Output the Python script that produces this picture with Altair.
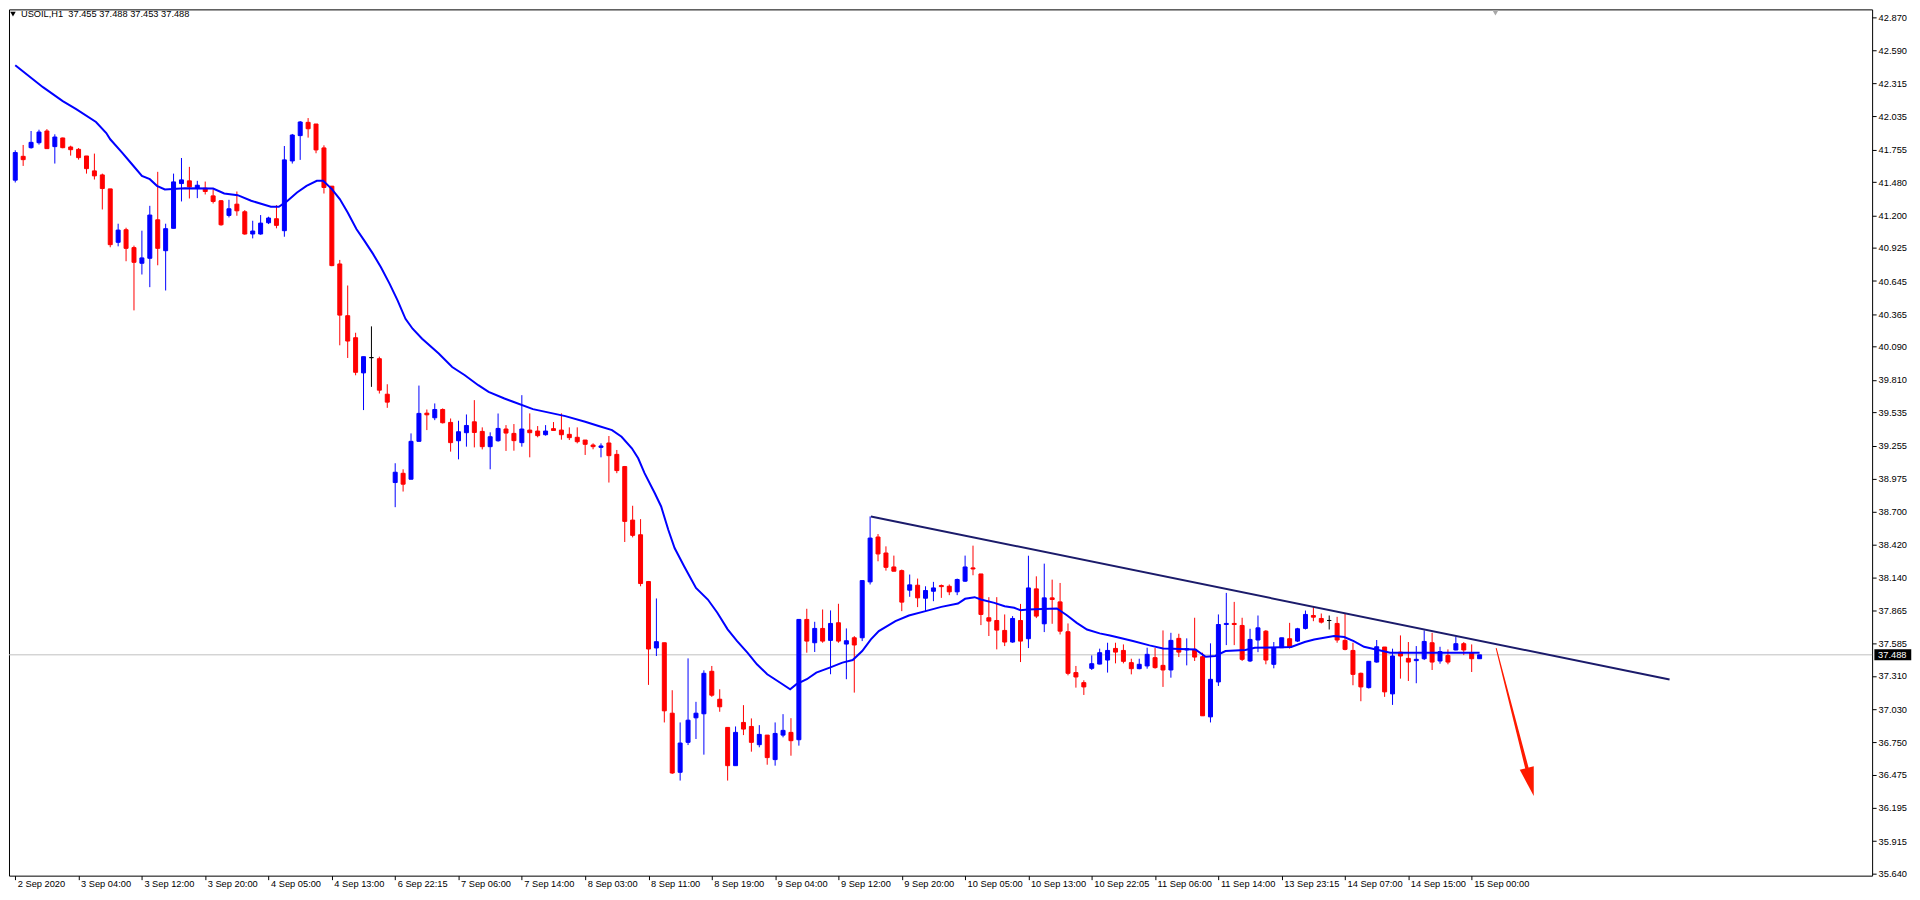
import json
import numpy as np
import pandas as pd
import altair as alt

# ---------------- data (USOIL, H1) ----------------
candle_open = [
    41.497, 41.698, 41.771, 41.813, 41.912, 41.780, 41.853, 41.777, 41.757, 41.701,
    41.575, 41.541, 41.423, 40.972, 41.078, 40.927, 40.795, 40.837, 41.162, 40.901,
    41.090, 41.468, 41.491, 41.426, 41.429, 41.364, 41.323, 41.199, 41.294, 41.230,
    41.042, 41.042, 41.137, 41.171, 41.070, 41.659, 41.873, 41.985, 41.971, 41.769,
    41.446, 40.789, 40.352, 40.166, 39.869, 39.998, 39.989, 39.689, 38.943, 39.021,
    38.971, 39.291, 39.529, 39.490, 39.560, 39.451, 39.296, 39.364, 39.456, 39.375,
    39.246, 39.296, 39.395, 39.358, 39.280, 39.386, 39.378, 39.347, 39.398, 39.386,
    39.350, 39.325, 39.302, 39.260, 39.240, 39.277, 39.181, 39.078, 38.626, 38.502,
    38.107, 37.546, 37.590, 36.995, 36.496, 36.749, 36.956, 36.990, 37.349, 37.113,
    36.875, 36.552, 36.917, 36.883, 36.729, 36.810, 36.603, 36.810, 36.833, 36.771,
    37.787, 37.590, 37.711, 37.610, 37.759, 37.579, 37.632, 37.632, 38.104, 38.483,
    38.348, 38.230, 38.199, 38.034, 38.076, 37.966, 38.025, 38.073, 38.067, 38.020,
    38.110, 38.222, 38.171, 37.801, 37.778, 37.694, 37.596, 37.778, 37.624, 38.045,
    37.750, 37.969, 37.935, 37.683, 37.338, 37.253, 37.374, 37.410, 37.444, 37.542,
    37.525, 37.422, 37.371, 37.394, 37.464, 37.399, 37.360, 37.627, 37.529, 37.534,
    37.472, 36.964, 37.259, 37.744, 37.753, 37.736, 37.436, 37.613, 37.688, 37.408,
    37.548, 37.624, 37.604, 37.711, 37.820, 37.795, 37.778, 37.753, 37.610, 37.525,
    37.332, 37.211, 37.427, 37.554, 37.158, 37.511, 37.458, 37.439, 37.455, 37.590,
    37.436, 37.483, 37.529, 37.582, 37.506, 37.455,
]
candle_high = [
    41.749, 41.794, 41.912, 41.923, 41.928, 41.884, 41.856, 41.788, 41.768, 41.701,
    41.721, 41.552, 41.423, 41.129, 41.095, 40.944, 41.070, 41.280, 41.567, 41.129,
    41.552, 41.684, 41.609, 41.491, 41.485, 41.420, 41.328, 41.331, 41.401, 41.244,
    41.154, 41.202, 41.188, 41.286, 41.785, 41.887, 41.996, 42.021, 41.971, 41.791,
    41.446, 40.823, 40.607, 40.208, 40.006, 40.262, 40.006, 39.773, 39.106, 39.055,
    39.358, 39.762, 39.560, 39.611, 39.569, 39.484, 39.465, 39.518, 39.639, 39.409,
    39.367, 39.526, 39.428, 39.437, 39.681, 39.527, 39.420, 39.428, 39.454, 39.527,
    39.409, 39.409, 39.302, 39.274, 39.274, 39.336, 39.218, 39.083, 38.747, 38.634,
    38.112, 37.964, 37.590, 37.189, 36.917, 37.458, 37.091, 37.357, 37.394, 37.197,
    36.875, 36.883, 37.063, 36.951, 36.894, 36.810, 36.917, 36.987, 36.953, 37.787,
    37.877, 37.767, 37.871, 37.863, 37.919, 37.711, 37.646, 38.115, 38.657, 38.508,
    38.404, 38.326, 38.208, 38.166, 38.132, 38.067, 38.104, 38.082, 38.082, 38.132,
    38.326, 38.410, 38.171, 37.975, 37.975, 37.829, 37.815, 37.918, 38.325, 38.151,
    38.258, 38.123, 38.095, 37.753, 37.394, 37.273, 37.483, 37.540, 37.590, 37.590,
    37.576, 37.455, 37.455, 37.548, 37.545, 37.694, 37.674, 37.666, 37.627, 37.801,
    37.506, 37.585, 37.829, 38.011, 37.935, 37.801, 37.708, 37.820, 37.697, 37.596,
    37.632, 37.758, 37.716, 37.862, 37.890, 37.837, 37.820, 37.809, 37.837, 37.590,
    37.338, 37.433, 37.613, 37.554, 37.540, 37.652, 37.596, 37.562, 37.694, 37.674,
    37.556, 37.534, 37.641, 37.596, 37.576, 37.488,
]
candle_low = [
    41.477, 41.617, 41.763, 41.797, 41.763, 41.637, 41.766, 41.704, 41.670, 41.552,
    41.502, 41.249, 40.930, 40.938, 40.812, 40.397, 40.700, 40.593, 40.778, 40.565,
    41.090, 41.317, 41.342, 41.345, 41.376, 41.300, 41.112, 41.182, 41.196, 41.036,
    41.005, 41.036, 41.126, 41.090, 41.019, 41.637, 41.668, 41.856, 41.724, 41.384,
    40.770, 40.102, 39.995, 39.849, 39.555, 39.751, 39.695, 39.574, 38.735, 38.867,
    38.971, 39.291, 39.386, 39.470, 39.442, 39.204, 39.139, 39.246, 39.240, 39.223,
    39.055, 39.288, 39.210, 39.212, 39.246, 39.156, 39.325, 39.339, 39.383, 39.305,
    39.302, 39.274, 39.176, 39.224, 39.156, 38.943, 39.022, 38.441, 38.480, 38.067,
    37.234, 37.478, 36.917, 36.482, 36.426, 36.726, 36.777, 36.645, 37.133, 37.007,
    36.426, 36.552, 36.810, 36.670, 36.707, 36.560, 36.552, 36.791, 36.636, 36.721,
    37.506, 37.512, 37.590, 37.324, 37.590, 37.282, 37.169, 37.604, 38.082, 38.278,
    38.199, 38.194, 37.857, 37.978, 37.891, 37.857, 37.941, 37.969, 37.992, 37.992,
    38.104, 38.160, 37.739, 37.647, 37.534, 37.562, 37.590, 37.427, 37.545, 37.798,
    37.680, 37.750, 37.660, 37.315, 37.211, 37.149, 37.360, 37.408, 37.338, 37.416,
    37.416, 37.323, 37.366, 37.371, 37.371, 37.217, 37.295, 37.469, 37.399, 37.436,
    36.973, 36.917, 37.225, 37.570, 37.570, 37.436, 37.427, 37.511, 37.408, 37.374,
    37.548, 37.540, 37.596, 37.702, 37.772, 37.753, 37.702, 37.590, 37.526, 37.231,
    37.096, 37.203, 37.422, 37.133, 37.065, 37.287, 37.267, 37.248, 37.444, 37.360,
    37.413, 37.408, 37.526, 37.486, 37.343, 37.453,
]
candle_close = [
    41.730, 41.670, 41.816, 41.903, 41.763, 41.861, 41.771, 41.754, 41.687, 41.594,
    41.533, 41.426, 40.952, 41.075, 40.921, 40.803, 40.840, 41.202, 40.921, 41.087,
    41.482, 41.499, 41.440, 41.454, 41.401, 41.317, 41.120, 41.255, 41.238, 41.042,
    41.067, 41.134, 41.177, 41.115, 41.668, 41.878, 41.988, 41.931, 41.752, 41.435,
    40.775, 40.357, 40.138, 39.874, 40.006, 39.998, 39.723, 39.622, 39.030, 38.929,
    39.291, 39.527, 39.515, 39.560, 39.448, 39.280, 39.372, 39.425, 39.366, 39.246,
    39.330, 39.400, 39.361, 39.297, 39.395, 39.364, 39.339, 39.378, 39.383, 39.347,
    39.322, 39.288, 39.266, 39.246, 39.252, 39.170, 39.044, 38.615, 38.497, 38.090,
    37.537, 37.599, 37.015, 36.490, 36.743, 36.936, 36.995, 37.332, 37.147, 37.049,
    36.552, 36.833, 36.861, 36.749, 36.816, 36.620, 36.824, 36.850, 36.763, 37.787,
    37.604, 37.711, 37.604, 37.753, 37.604, 37.607, 37.571, 38.115, 38.474, 38.340,
    38.227, 38.194, 37.933, 38.079, 37.969, 38.031, 38.053, 38.064, 38.020, 38.124,
    38.230, 38.213, 37.829, 37.773, 37.697, 37.596, 37.795, 37.604, 38.053, 37.815,
    37.969, 37.955, 37.688, 37.332, 37.301, 37.217, 37.413, 37.506, 37.525, 37.511,
    37.433, 37.371, 37.408, 37.492, 37.380, 37.360, 37.610, 37.511, 37.540, 37.469,
    36.973, 37.281, 37.744, 37.753, 37.744, 37.450, 37.618, 37.716, 37.444, 37.548,
    37.632, 37.554, 37.708, 37.829, 37.806, 37.764, 37.778, 37.613, 37.534, 37.323,
    37.217, 37.433, 37.556, 37.175, 37.478, 37.478, 37.427, 37.450, 37.601, 37.427,
    37.515, 37.427, 37.582, 37.529, 37.455, 37.488,
]

time_labels = [
    "2 Sep 2020", "3 Sep 04:00", "3 Sep 12:00", "3 Sep 20:00", "4 Sep 05:00",
    "4 Sep 13:00", "6 Sep 22:15", "7 Sep 06:00", "7 Sep 14:00", "8 Sep 03:00",
    "8 Sep 11:00", "8 Sep 19:00", "9 Sep 04:00", "9 Sep 12:00", "9 Sep 20:00",
    "10 Sep 05:00", "10 Sep 13:00", "10 Sep 22:05", "11 Sep 06:00", "11 Sep 14:00",
    "13 Sep 23:15", "14 Sep 07:00", "14 Sep 15:00", "15 Sep 00:00",
]
bars_per_label = 8

price_ticks = [
    42.870, 42.590, 42.315, 42.035, 41.755, 41.480, 41.200, 40.925, 40.645,
    40.365, 40.090, 39.810, 39.535, 39.255, 38.975, 38.700, 38.420, 38.140,
    37.865, 37.585, 37.310, 37.030, 36.750, 36.475, 36.195, 35.915, 35.640,
]

ma_bar = [
    0, 3.5, 6.0, 7.7, 10.2, 11.5, 12.0, 13.5, 14.75, 16.0, 17.0, 17.9, 18.9, 21.4,
    25.0, 26.4, 28.1, 29.8, 32.3, 33.3, 34.3, 35.6, 36.8, 38.1, 38.9, 40.0, 41.0,
    42.0, 43.1, 44.1, 45.2, 46.2, 47.3, 48.3, 49.3, 50.2, 51.4, 53.5, 55.2, 56.8,
    58.5, 59.8, 61.8, 62.9, 65.4, 69.5, 72.0, 73.7, 75.4, 76.6, 77.9, 78.7, 79.5,
    80.8, 81.6, 82.5, 83.3, 84.5, 86.0, 87.5, 88.7, 90.0, 91.2, 92.5, 93.7, 95.0,
    96.6, 97.9, 98.7, 100.0, 101.2, 102.9, 104.5, 105.8, 107.0, 108.1, 109.1,
    111.2, 112.9, 115.0, 117.0, 119.1, 120.0, 121.2, 122.0, 123.7, 125.0, 126.2,
    127.0, 127.9, 131.6, 132.9, 134.1, 135.4, 137.0, 138.3, 139.5, 141.2, 143.3,
    145.0, 146.2, 149.1, 150.4, 151.6, 152.9, 155.4, 156.6, 161.2, 162.9, 164.1,
    166.6, 167.9, 169.1, 170.4, 173.7, 185.0,
]
ma_value = [
    42.468, 42.282, 42.164, 42.097, 41.988, 41.895, 41.842, 41.730, 41.631, 41.533,
    41.505, 41.449, 41.418, 41.429, 41.426, 41.384, 41.370, 41.323, 41.272, 41.272,
    41.317, 41.393, 41.449, 41.491, 41.491, 41.421, 41.337, 41.224, 41.084, 40.986,
    40.874, 40.761, 40.621, 40.481, 40.326, 40.242, 40.158, 40.032, 39.919, 39.849,
    39.765, 39.709, 39.653, 39.625, 39.563, 39.504, 39.456, 39.420, 39.386, 39.330,
    39.232, 39.148, 39.022, 38.853, 38.741, 38.544, 38.390, 38.236, 38.053, 37.955,
    37.843, 37.703, 37.604, 37.506, 37.408, 37.324, 37.254, 37.197, 37.240, 37.282,
    37.338, 37.380, 37.422, 37.444, 37.520, 37.618, 37.688, 37.773, 37.820, 37.857,
    37.893, 37.921, 37.961, 37.975, 37.955, 37.927, 37.899, 37.885, 37.865, 37.871,
    37.879, 37.820, 37.758, 37.702, 37.669, 37.652, 37.632, 37.604, 37.568, 37.542,
    37.540, 37.534, 37.472, 37.478, 37.520, 37.528, 37.548, 37.554, 37.596, 37.618,
    37.646, 37.638, 37.604, 37.556, 37.506, 37.506,
]

trend_bar = [108.1, 209.0]
trend_value = [38.657, 37.279]

arrow_bar = [187.1, 191.0]
arrow_value = [37.542, 36.525]
arrow_width = [1.0, 3.5]
arrow_head_bar = [191.4]
arrow_head_value = [36.414]

last_price = 37.488
shift_marker_bar = 187.0
title_text = "USOIL,H1\u00a0\u00a037.455 37.488 37.453 37.488"

# ---------------- tables ----------------
n = len(candle_open)
candles = pd.DataFrame({
    "bar": np.arange(n),
    "open": candle_open,
    "high": candle_high,
    "low": candle_low,
    "close": candle_close,
})
candles["dir"] = np.where(candles["close"] > candles["open"], "up",
                          np.where(candles["close"] < candles["open"], "down", "flat"))
ma_df = pd.DataFrame({"bar": ma_bar, "price": ma_value})
trend_df = pd.DataFrame({"bar": trend_bar, "price": trend_value})
arrow_df = pd.DataFrame({"bar": arrow_bar, "price": arrow_value, "w": arrow_width})
head_df = pd.DataFrame({"bar": arrow_head_bar, "price": arrow_head_value})
last_df = pd.DataFrame({"price": [last_price]})
shift_df = pd.DataFrame({"bar": [shift_marker_bar]})
title_df = pd.DataFrame({"t": [title_text]})

# ---------------- styling ----------------
W, H = 1869, 869
FONT = "Liberation Sans"
FS = 9.3

xs = alt.Scale(domain=[-0.16, 233.96], nice=False, zero=False)
ys = alt.Scale(domain=[35.623, 42.939], nice=False, zero=False)

x_axis = alt.Axis(
    values=[bars_per_label * i for i in range(len(time_labels))],
    labelExpr=f"{json.dumps(time_labels)}[round(datum.value/{bars_per_label})]",
    orient="bottom", grid=False, domain=False, tickSize=4, tickColor="black",
    labelAlign="left", labelBaseline="middle", labelPadding=4, labelOffset=2,
    labelFont=FONT, labelFontSize=FS, labelColor="black",
    labelOverlap=False, labelFlush=False, labelBound=False, title=None,
)
y_axis = alt.Axis(
    values=price_ticks, format=".3f", orient="right", grid=False, domain=False,
    tickSize=4, tickColor="black", labelPadding=2, labelAlign="left",
    labelBaseline="middle", labelFont=FONT, labelFontSize=FS, labelColor="black",
    labelOverlap=False, labelFlush=False, labelBound=False, title=None,
)

col_scale = alt.Scale(domain=["up", "down", "flat"], range=["#0000ff", "#ff0000", "#000000"])


def X(field):
    return alt.X(field, type="quantitative", scale=xs, axis=x_axis)


def Y(field):
    return alt.Y(field, type="quantitative", scale=ys, axis=y_axis)


bid_line = alt.Chart(last_df).mark_rule(color="#c0c0c0", strokeWidth=1).encode(
    y=Y("price"), x=alt.value(0), x2=alt.value(W)
)

wicks = alt.Chart(candles).mark_rule(strokeWidth=1).encode(
    x=X("bar"), y=Y("low"), y2="high",
    color=alt.Color("dir:N", scale=col_scale, legend=None),
)

bodies = alt.Chart(candles).mark_bar(size=4, strokeWidth=1).encode(
    x=X("bar"), y=Y("open"), y2="close",
    color=alt.Color("dir:N", scale=col_scale, legend=None),
    stroke=alt.Stroke("dir:N", scale=col_scale, legend=None),
)

ma_line = alt.Chart(ma_df).mark_line(color="#0000ff", strokeWidth=2).encode(
    x=X("bar"), y=Y("price")
)

trend_line = alt.Chart(trend_df).mark_line(color="#1b1b6b", strokeWidth=2).encode(
    x=X("bar"), y=Y("price")
)

arrow_shaft = alt.Chart(arrow_df).mark_trail(color="#ff1a00").encode(
    x=X("bar"), y=Y("price"), size=alt.Size("w:Q", scale=None, legend=None)
)

arrow_head = alt.Chart(head_df).mark_point(
    shape="M-0.5,-1L0.5,-1L0,1Z", filled=True, fill="#ff1a00", opacity=1,
    strokeWidth=0, size=840, angle=346,
).encode(x=X("bar"), y=Y("price"))

price_box = alt.Chart(last_df).mark_point(
    shape="M-1,-0.3L1,-0.3L1,0.3L-1,0.3Z", filled=True, fill="black",
    opacity=1, strokeWidth=0, size=1369,
).encode(y=Y("price"), x=alt.value(W + 20.75))

price_text = alt.Chart(last_df).mark_text(
    color="white", font=FONT, fontSize=FS, align="left", baseline="middle"
).encode(y=Y("price"), x=alt.value(W + 6), text=alt.Text("price:Q", format=".3f"))

title_mark = alt.Chart(title_df).mark_text(
    color="black", font=FONT, fontSize=FS, align="left", baseline="middle"
).encode(x=alt.value(12), y=alt.value(4.7), text="t:N")

title_tri = alt.Chart(title_df).mark_point(
    shape="triangle-down", filled=True, fill="black", opacity=1, strokeWidth=0, size=30
).encode(x=alt.value(4), y=alt.value(4.8))

shift_marker = alt.Chart(shift_df).mark_point(
    shape="triangle-down", filled=True, fill="#a8a8a8", opacity=1, strokeWidth=0, size=40
).encode(x=X("bar"), y=alt.value(3.4))

chart = alt.layer(
    bid_line, wicks, bodies, ma_line, trend_line, arrow_shaft, arrow_head,
    price_box, price_text, title_tri, title_mark, shift_marker,
).properties(
    width=W, height=H, padding=0, background="white"
).configure_view(
    stroke="black", strokeWidth=1
)

chart.save("out.html", embed_options={"renderer": "svg", "actions": False})
